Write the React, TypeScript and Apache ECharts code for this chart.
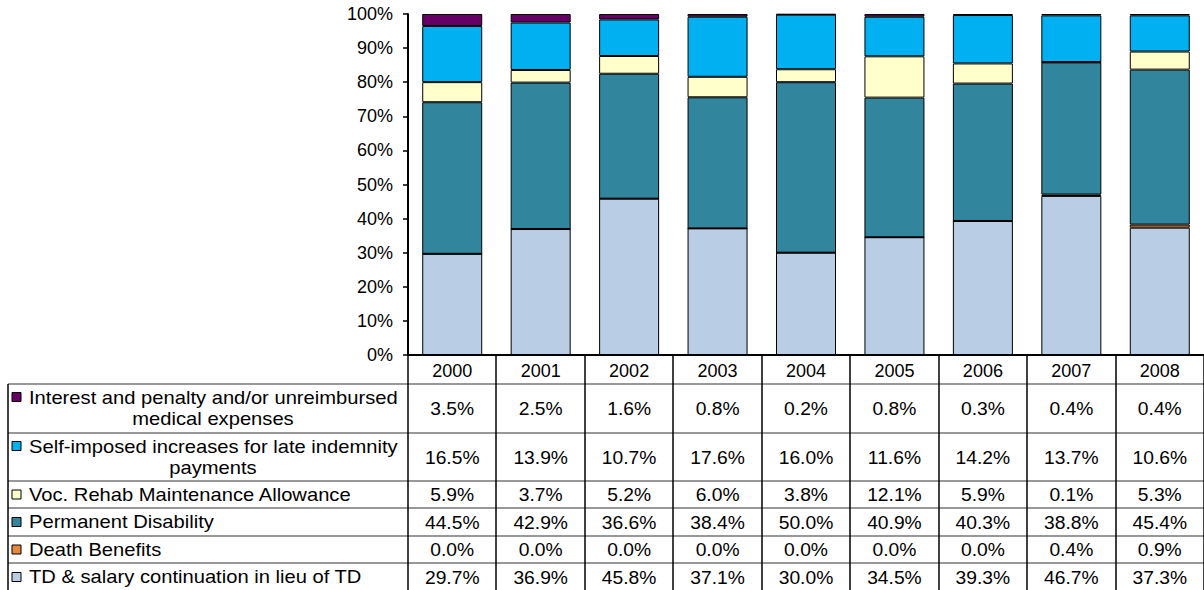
import React, { useEffect, useRef } from "react";
import * as echarts from "echarts";

const years = ["2000", "2001", "2002", "2003", "2004", "2005", "2006", "2007", "2008"];

const interestPenalty = [3.5, 2.5, 1.6, 0.8, 0.2, 0.8, 0.3, 0.4, 0.4];
const selfImposed = [16.5, 13.9, 10.7, 17.6, 16.0, 11.6, 14.2, 13.7, 10.6];
const vocRehab = [5.9, 3.7, 5.2, 6.0, 3.8, 12.1, 5.9, 0.1, 5.3];
const permanentDisability = [44.5, 42.9, 36.6, 38.4, 50.0, 40.9, 40.3, 38.8, 45.4];
const deathBenefits = [0.0, 0.0, 0.0, 0.0, 0.0, 0.0, 0.0, 0.4, 0.9];
const tdSalary = [29.7, 36.9, 45.8, 37.1, 30.0, 34.5, 39.3, 46.7, 37.3];

const seriesNames = [
  "Interest and penalty and/or unreimbursed medical expenses",
  "Self-imposed increases for late indemnity payments",
  "Voc. Rehab Maintenance Allowance",
  "Permanent Disability",
  "Death Benefits",
  "TD & salary continuation in lieu of TD",
];
const labelLines = [
  ["Interest and penalty and/or unreimbursed", "medical expenses"],
  ["Self-imposed increases for late indemnity", "payments"],
  ["Voc. Rehab Maintenance Allowance"],
  ["Permanent Disability"],
  ["Death Benefits"],
  ["TD & salary continuation in lieu of TD"],
];
const seriesValues = [interestPenalty, selfImposed, vocRehab, permanentDisability, deathBenefits, tdSalary];
const colors = ["#660066", "#00B0F0", "#FFFFCC", "#31859C", "#E6883E", "#B9CDE5"];

const FONT = "Arial, 'Liberation Sans', sans-serif";

export default function App() {
  const ref = useRef<HTMLDivElement>(null);
  useEffect(() => {
    if (!ref.current) return;
    const chart = echarts.init(ref.current, undefined, { renderer: "svg" });
    // normalize to 100% per year
    const totals = years.map((_, i) => seriesValues.reduce((s, arr) => s + arr[i], 0));
    const stackOrder = [5, 4, 3, 2, 1, 0];
    const series = stackOrder.map((k) => ({
      name: seriesNames[k],
      type: "bar",
      stack: "total",
      barWidth: 60,
      data: seriesValues[k].map((v, i) => (v / totals[i]) * 100),
      itemStyle: { color: colors[k], borderColor: "#000", borderWidth: 1 },
    }));
    chart.setOption({
      animation: false,
      grid: { left: 408, top: 14, bottom: 235, width: 801 },
      xAxis: {
        type: "category",
        data: years,
        axisLine: { lineStyle: { color: "#000", width: 2 } },
        axisTick: { show: false },
        axisLabel: { color: "#000", fontSize: 18, fontFamily: FONT, margin: 7 },
      },
      yAxis: {
        type: "value",
        min: 0,
        max: 100,
        interval: 10,
        axisLine: { show: true, lineStyle: { color: "#000", width: 2 } },
        axisTick: { show: true, length: 5, lineStyle: { color: "#000", width: 1.5 } },
        splitLine: { show: false },
        axisLabel: { color: "#000", fontSize: 18, fontFamily: FONT, margin: 15, formatter: "{value}%" },
      },
      series,
    });

    const centers = years.map((y) => chart.convertToPixel({ xAxisIndex: 0 }, y) as number);
    const step = centers[1] - centers[0];
    const rowBounds = [384, 433, 481, 508, 536, 563, 591];
    const elements: any[] = [];
    // horizontal lines
    rowBounds.slice(0, 6).forEach((y) => {
      elements.push({
        type: "line",
        shape: { x1: 8, y1: y, x2: 1204, y2: y },
        style: { stroke: "#333", lineWidth: 1.2 },
      });
    });
    // vertical lines
    elements.push({ type: "line", shape: { x1: 8, y1: 384, x2: 8, y2: 590 }, style: { stroke: "#000", lineWidth: 1.5 } });
    for (let k = 0; k <= years.length; k++) {
      const x = Math.round(centers[0] - step / 2 + k * step);
      elements.push({
        type: "line",
        shape: { x1: x, y1: 355, x2: x, y2: 590 },
        style: { stroke: "#000", lineWidth: 1.5 },
      });
    }
    // rows
    seriesNames.forEach((_, r) => {
      const top = rowBounds[r];
      const bot = rowBounds[r + 1];
      const mid = (top + bot) / 2;
      const lines = labelLines[r];
      const sqY = lines.length > 1 ? top + 13 : mid;
      elements.push({
        type: "rect",
        shape: { x: 12, y: sqY - 4.5, width: 9, height: 9 },
        style: { fill: colors[r], stroke: "#000", lineWidth: 1 },
      });
      if (lines.length > 1) {
        elements.push({
          type: "text",
          x: 29,
          y: top + 13.5,
          scaleX: 1.12,
          style: { text: lines[0], font: `18px ${FONT}`, fill: "#000", textAlign: "left", textVerticalAlign: "middle" },
        });
        elements.push({
          type: "text",
          x: 213,
          y: top + 34.5,
          scaleX: 1.12,
          style: { text: lines[1], font: `18px ${FONT}`, fill: "#000", textAlign: "center", textVerticalAlign: "middle" },
        });
      } else {
        elements.push({
          type: "text",
          x: 29,
          y: mid,
          scaleX: 1.12,
          style: { text: lines[0], font: `18px ${FONT}`, fill: "#000", textAlign: "left", textVerticalAlign: "middle" },
        });
      }
      seriesValues[r].forEach((v, i) => {
        elements.push({
          type: "text",
          x: centers[i],
          y: mid + 0.5,
          scaleX: 1.07,
          style: {
            text: v.toFixed(1) + "%",
            font: `18px ${FONT}`,
            fill: "#000",
            textAlign: "center",
            textVerticalAlign: "middle",
          },
        });
      });
    });
    chart.setOption({ graphic: { elements } });
    return () => chart.dispose();
  }, []);
  return (
    <div
      ref={ref}
      style={{ position: "fixed", left: 0, top: 0, width: 1204, height: 590, background: "#fff" }}
    />
  );
}
